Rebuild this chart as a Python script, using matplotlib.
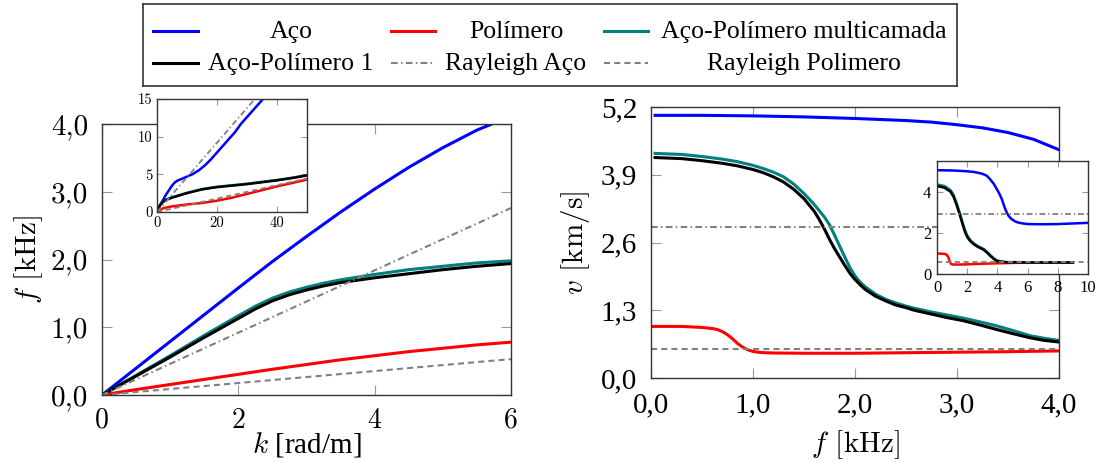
import matplotlib
matplotlib.use("Agg")
import matplotlib.pyplot as plt

plt.rcParams['mathtext.fontset'] = 'cm'
plt.rcParams['axes.unicode_minus'] = False

# ---------------- data: left main plot (f [kHz] vs k [rad/m]) ----------------
k_aco = [0, 1, 2, 2.5, 3, 3.5, 4, 4.5, 5, 5.5, 5.72]
f_aco = [0, 0.79, 1.58, 1.97, 2.34, 2.70, 3.04, 3.36, 3.65, 3.91, 4.0]
k_main = [0, 0.5, 1, 1.5, 2, 2.25, 2.5, 2.75, 3, 3.25, 3.5, 4, 4.5, 5, 5.5, 6]
f_pol = [0, 0.08, 0.155, 0.23, 0.305, 0.343, 0.38, 0.415, 0.45, 0.485, 0.52, 0.58,
         0.64, 0.69, 0.74, 0.78]
f_multi = [0, 0.29, 0.58, 0.88, 1.17, 1.31, 1.43, 1.52, 1.59, 1.65, 1.70, 1.78, 1.85,
           1.90, 1.95, 1.98]
f_ap1 = [0, 0.28, 0.56, 0.85, 1.13, 1.27, 1.39, 1.48, 1.55, 1.61, 1.66, 1.73, 1.79,
         1.85, 1.90, 1.94]
k_ray = [0, 6]
f_ray_aco = [0, 2.76]
f_ray_pol = [0, 0.53]

# ---------------- data: left inset ----------------
ki_aco = [0, 1, 2, 3, 4, 5, 6, 7, 8, 10, 12, 14, 16, 18, 20, 22, 24, 26, 28, 30, 32, 34, 36]
fi_aco = [0, 0.9, 1.6, 2.3, 2.9, 3.5, 3.95, 4.2, 4.35, 4.7, 5.05, 5.55, 6.2, 7.0, 7.9, 8.8,
          9.7, 10.6, 11.7, 12.6, 13.5, 14.4, 15.3]
ki_ml = [0, 1, 2, 3, 5, 7.5, 10, 15, 20, 25, 30, 35, 40, 45, 50]
fi_ap1 = [0, 0.9, 1.35, 1.6, 1.9, 2.2, 2.5, 3.0, 3.3, 3.5, 3.7, 3.95, 4.2, 4.5, 4.85]
fi_multi = [0, 0.92, 1.38, 1.63, 1.95, 2.25, 2.55, 3.05, 3.35, 3.55, 3.75, 4.0, 4.25, 4.55, 4.9]
ki_pol = [0, 2, 5, 10, 15, 20, 25, 30, 35, 40, 45, 50]
fi_pol = [0, 0.5, 0.75, 1.0, 1.2, 1.5, 1.9, 2.4, 2.9, 3.4, 3.85, 4.3]
ki_ray = [0, 50]
fi_ray_aco = [0, 23.0]
fi_ray_pol = [0, 4.45]

# ---------------- data: right main plot (v [km/s] vs f [kHz]) ----------------
fr_aco = [0.04, 0.5, 1.0, 1.5, 2.0, 2.5, 2.75, 3.0, 3.25, 3.5, 3.75, 4.0]
vr_aco = [5.04, 5.04, 5.03, 5.01, 4.98, 4.94, 4.91, 4.86, 4.80, 4.71, 4.58, 4.38]
fr_multi = [0.04, 0.3, 0.5, 0.7, 0.85, 1.0, 1.1, 1.2, 1.3, 1.4, 1.5, 1.6, 1.7, 1.75, 1.8,
            1.85, 1.9, 1.95, 2.0, 2.05, 2.1, 2.2, 2.3, 2.4, 2.5, 2.58, 2.74, 2.9, 3.06,
            3.22, 3.39, 3.55, 3.72, 3.86, 4.0]
vr_multi = [4.31, 4.29, 4.25, 4.20, 4.15, 4.08, 4.02, 3.95, 3.86, 3.72, 3.54, 3.33, 3.09,
            2.94, 2.74, 2.53, 2.32, 2.12, 1.96, 1.84, 1.75, 1.61, 1.51, 1.44, 1.38, 1.34,
            1.27, 1.21, 1.15, 1.08, 1.00, 0.91, 0.81, 0.76, 0.72]
fr_ap1 = [0.04, 0.3, 0.5, 0.7, 0.85, 1.0, 1.1, 1.2, 1.3, 1.4, 1.5, 1.6, 1.65, 1.7, 1.75,
          1.8, 1.85, 1.9, 1.95, 2.0, 2.05, 2.1, 2.2, 2.3, 2.4, 2.5, 2.58, 2.74, 2.9, 3.06,
          3.22, 3.39, 3.55, 3.72, 3.86, 4.0]
vr_ap1 = [4.23, 4.21, 4.17, 4.12, 4.07, 4.0, 3.94, 3.86, 3.76, 3.62, 3.44, 3.20, 3.04, 2.86,
          2.66, 2.48, 2.32, 2.16, 2.01, 1.89, 1.79, 1.70, 1.57, 1.48, 1.40, 1.35, 1.30,
          1.23, 1.16, 1.10, 1.02, 0.93, 0.85, 0.77, 0.72, 0.69]
fr_pol = [0.01, 0.3, 0.5, 0.6, 0.65, 0.7, 0.75, 0.8, 0.85, 0.9, 0.95, 1.0, 1.05, 1.1, 1.2,
          1.5, 2.0, 2.5, 3.0, 3.5, 4.0]
vr_pol = [0.99, 0.99, 0.97, 0.95, 0.93, 0.89, 0.83, 0.75, 0.66, 0.59, 0.54, 0.51, 0.495,
          0.487, 0.48, 0.475, 0.475, 0.485, 0.495, 0.505, 0.52]
fr_ray = [0, 4]
vr_ray_aco = [2.90, 2.90]
vr_ray_pol = [0.555, 0.555]

# ---------------- data: right inset ----------------
fri_aco = [0, 1, 2, 2.5, 3, 3.3, 3.53, 3.75, 3.97, 4.15, 4.3, 4.45, 4.6, 4.75, 4.9, 5.1,
           5.3, 5.6, 6, 7, 8, 9, 10]
vri_aco = [5.05, 5.04, 5.0, 4.96, 4.88, 4.78, 4.6, 4.4, 4.12, 3.88, 3.63, 3.30, 3.02, 2.82,
           2.70, 2.59, 2.52, 2.47, 2.43, 2.42, 2.43, 2.46, 2.49]
fri_ml = [0, 0.5, 0.9, 1.1, 1.3, 1.5, 1.66, 1.85, 2.0, 2.2, 2.43, 2.7, 3.09, 3.3, 3.53,
          3.75, 3.97, 4.3, 4.6, 5, 6, 7, 8, 9]
vri_ap1 = [4.28, 4.2, 4.0, 3.75, 3.35, 2.9, 2.5, 2.05, 1.8, 1.6, 1.45, 1.32, 1.18, 1.05,
           0.88, 0.74, 0.63, 0.59, 0.57, 0.57, 0.56, 0.56, 0.56, 0.56]
vri_multi = [4.36, 4.28, 4.08, 3.85, 3.45, 3.0, 2.6, 2.15, 1.88, 1.66, 1.5, 1.36, 1.22,
             1.09, 0.92, 0.77, 0.66, 0.61, 0.58, 0.58, 0.57, 0.57, 0.57, 0.57]
fri_pol = [0, 0.5, 0.65, 0.75, 0.85, 0.95, 1.1, 1.5, 2, 3, 4, 5, 6, 7, 8, 9]
vri_pol = [1.0, 0.98, 0.93, 0.82, 0.6, 0.48, 0.46, 0.46, 0.47, 0.5, 0.52, 0.54, 0.55, 0.55,
           0.56, 0.56]
fri_ray = [0, 10]
vri_ray_aco = [2.9, 2.9]
vri_ray_pol = [0.56, 0.56]

# ---------------- ticks / labels ----------------
left_xticks = [0, 2, 4, 6]
left_xticklabels = ['0', '2', '4', '6']
left_yticks = [0, 1, 2, 3, 4]
left_yticklabels = ['0,0', '1,0', '2,0', '3,0', '4,0']
lin_xticks = [0, 20, 40]
lin_yticks = [0, 5, 10, 15]
right_xticks = [0, 1, 2, 3, 4]
right_xticklabels = ['0,0', '1,0', '2,0', '3,0', '4,0']
right_yticks = [0, 1.3, 2.6, 3.9, 5.2]
right_yticklabels = ['0,0', '1,3', '2,6', '3,9', '5,2']
rin_xticks = [0, 2, 4, 6, 8, 10]
rin_yticks = [0, 2, 4]

labels = ['Aço', 'Polímero', 'Aço-Polímero multicamada',
          'Aço-Polímero 1', 'Rayleigh Aço', 'Rayleigh Polimero']

# ---------------- styles ----------------
C_ACO, C_POL, C_MULTI, C_AP1, C_RAY = '#0000ff', '#ff0000', '#008080', '#000000', '#808080'
DASHDOT = (0, (3.2, 1.6, 0.7, 1.6))
DASHED = (0, (2.9, 2.0))
SERIF = 'Liberation Serif'
CM = 'cmr10'

W, H = 1100, 463
fig = plt.figure(figsize=(W / 100, H / 100), dpi=100)


def rect(x0, y0, x1, y1):
    return [x0 / W, 1 - y1 / H, (x1 - x0) / W, (y1 - y0) / H]


def style(ax, tlen, pad):
    for s in ax.spines.values():
        s.set_color('#333333')
        s.set_linewidth(1.0)
    ax.tick_params(direction='in', top=True, right=True, length=tlen, width=0.8,
                   color='#999999', pad=pad)


LW, LWG = 2.2, 1.5
LWI, LWGI = 1.8, 1.3

# ---- left main ----
axL = fig.add_axes(rect(102, 124, 511, 395))
axL.plot(k_aco, f_aco, color=C_ACO, lw=LW)
axL.plot(k_main, f_pol, color=C_POL, lw=LW)
axL.plot(k_main, f_multi, color=C_MULTI, lw=LW)
axL.plot(k_main, f_ap1, color=C_AP1, lw=LW)
axL.plot(k_ray, f_ray_aco, color=C_RAY, lw=LWG, ls=DASHDOT)
axL.plot(k_ray, f_ray_pol, color=C_RAY, lw=LWG, ls=DASHED)
axL.set_xlim(0, 6)
axL.set_ylim(0, 4)
style(axL, 7, 9)
axL.set_xticks(left_xticks, left_xticklabels, fontfamily=CM, fontsize=20)
axL.set_yticks(left_yticks, left_yticklabels, fontfamily=CM, fontsize=21)
axL.tick_params(axis='y', pad=10)
axL.set_xlabel(r'$k$ [rad/m]', fontfamily=SERIF, fontsize=21)
axL.set_ylabel(r'$f$ [kHz]', fontfamily=CM, fontsize=21)
axL.xaxis.set_label_coords(0.5, -0.13)
axL.yaxis.set_label_coords(-0.14, 0.5)

# ---- left inset ----
axLi = fig.add_axes(rect(157, 99, 307, 212))
axLi.set_facecolor('white')
axLi.plot(ki_aco, fi_aco, color=C_ACO, lw=LWI)
axLi.plot(ki_pol, fi_pol, color=C_POL, lw=LWI)
axLi.plot(ki_ml, fi_multi, color=C_MULTI, lw=LWI)
axLi.plot(ki_ml, fi_ap1, color=C_AP1, lw=LWI)
axLi.plot(ki_ray, fi_ray_aco, color=C_RAY, lw=LWGI, ls=DASHDOT)
axLi.plot(ki_ray, fi_ray_pol, color=C_RAY, lw=LWGI, ls=DASHED)
axLi.set_xlim(0, 50)
axLi.set_ylim(0, 15)
style(axLi, 4, 3)
axLi.set_xticks(lin_xticks, [str(v) for v in lin_xticks], fontfamily=CM, fontsize=10.5)
axLi.set_yticks(lin_yticks, [str(v) for v in lin_yticks], fontfamily=CM, fontsize=10.5)

# ---- right main ----
axR = fig.add_axes(rect(651, 107, 1059, 378))
axR.plot(fr_aco, vr_aco, color=C_ACO, lw=LW)
axR.plot(fr_pol, vr_pol, color=C_POL, lw=LW)
axR.plot(fr_multi, vr_multi, color=C_MULTI, lw=LW)
axR.plot(fr_ap1, vr_ap1, color=C_AP1, lw=LW)
axR.plot(fr_ray, vr_ray_aco, color=C_RAY, lw=LWG, ls=DASHDOT)
axR.plot(fr_ray, vr_ray_pol, color=C_RAY, lw=LWG, ls=DASHED)
axR.set_xlim(0, 4)
axR.set_ylim(0, 5.2)
style(axR, 7, 10)
axR.set_xticks(right_xticks, right_xticklabels, fontfamily=SERIF, fontsize=21)
axR.set_yticks(right_yticks, right_yticklabels, fontfamily=SERIF, fontsize=21)
axR.set_xlabel(r'$f$ [kHz]', fontfamily=CM, fontsize=21)
axR.set_ylabel(r'$v$ [km/s]', fontfamily=CM, fontsize=21)
axR.xaxis.set_label_coords(0.5, -0.185)
axR.yaxis.set_label_coords(-0.145, 0.5)

# ---- right inset ----
axRi = fig.add_axes(rect(937, 161, 1088, 274))
axRi.set_facecolor('white')
axRi.plot(fri_aco, vri_aco, color=C_ACO, lw=LWI)
axRi.plot(fri_pol, vri_pol, color=C_POL, lw=LWI)
axRi.plot(fri_ml, vri_multi, color=C_MULTI, lw=LWI)
axRi.plot(fri_ml, vri_ap1, color=C_AP1, lw=LWI)
axRi.plot(fri_ray, vri_ray_aco, color=C_RAY, lw=LWGI, ls=DASHDOT)
axRi.plot(fri_ray, vri_ray_pol, color=C_RAY, lw=LWGI, ls=DASHED)
axRi.set_xlim(0, 10)
axRi.set_ylim(0, 5.5)
style(axRi, 4, 4)
axRi.set_xticks(rin_xticks, [str(v) for v in rin_xticks], fontfamily=SERIF, fontsize=12)
axRi.set_yticks(rin_yticks, [str(v) for v in rin_yticks], fontfamily=SERIF, fontsize=12)

# ---- legend (centred text in each cell, as in the reference) ----
lax = fig.add_axes(rect(143, 4, 957, 86))
lax.set_xlim(143, 957)
lax.set_ylim(86, 4)
lax.set_xticks([])
lax.set_yticks([])
for s in lax.spines.values():
    s.set_color('#333333')
    s.set_linewidth(1.2)
handle_x = [(153, 198), (391, 435), (604, 648)]
text_x = [291, 516, 804]
rows_y = [31, 63]
styles = [(C_ACO, '-', LW), (C_POL, '-', LW), (C_MULTI, '-', LW),
          (C_AP1, '-', LW), (C_RAY, DASHDOT, LWG), (C_RAY, DASHED, LWG)]
for i, (lab, (c, ls, lw)) in enumerate(zip(labels, styles)):
    r, col = divmod(i, 3)
    y = rows_y[r]
    x0, x1 = handle_x[col]
    lax.plot([x0, x1], [y, y], color=c, ls=ls, lw=lw)
    lax.text(text_x[col], y + 1, lab, ha='center', va='center',
             fontfamily=SERIF, fontsize=18.5)

fig.savefig('out.png', dpi=100)
